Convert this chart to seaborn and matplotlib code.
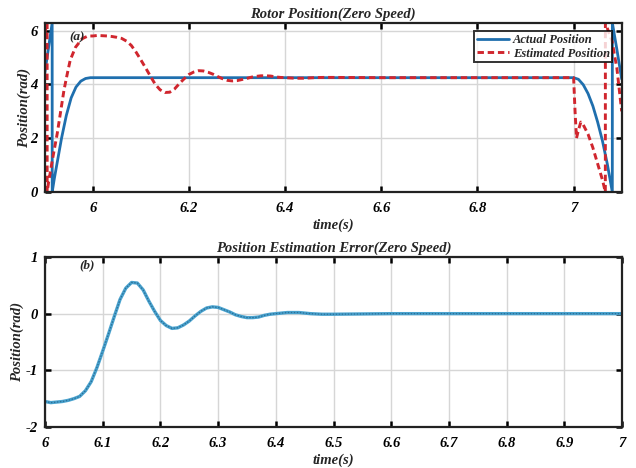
import numpy as np
import pandas as pd
import matplotlib
matplotlib.use("Agg")
import matplotlib.pyplot as plt
import seaborn as sns

# ---------------- data ----------------
act_t = [5.900, 5.9155, 5.9156, 5.920, 5.925, 5.935, 5.945, 5.955, 5.965, 5.975,
         5.985, 5.995, 6.2, 6.4, 6.6, 6.8, 7.000, 7.010, 7.020, 7.030, 7.040,
         7.050, 7.060, 7.070, 7.0805, 7.0806, 7.090, 7.100]
act_y = [4.40, 6.283, 0.00, 0.50, 1.00, 2.00, 2.85, 3.50, 3.90, 4.12,
         4.22, 4.25, 4.25, 4.25, 4.25, 4.25, 4.25, 4.19, 3.99, 3.66, 3.20,
         2.60, 1.90, 1.05, 0.00, 6.283, 5.30, 4.20]

est_t = [5.900, 5.905, 5.9051, 5.908, 5.915, 5.926, 5.940, 5.947, 5.953, 5.964,
         5.978, 5.990, 6.00, 6.01, 6.02, 6.03, 6.04, 6.05, 6.06, 6.07, 6.08,
         6.09, 6.10, 6.11, 6.12, 6.13, 6.14, 6.15, 6.16, 6.17, 6.18, 6.19,
         6.20, 6.21, 6.22, 6.23, 6.24, 6.25, 6.26, 6.27, 6.28, 6.29, 6.30,
         6.31, 6.32, 6.33, 6.34, 6.35, 6.36, 6.37, 6.38, 6.39, 6.40, 6.42,
         6.44, 6.46, 6.48, 6.50, 6.60, 6.70, 6.80, 6.90, 7.000, 7.003, 7.006,
         7.010, 7.015, 7.020, 7.030, 7.040, 7.050, 7.060, 7.066, 7.0661, 7.080,
         7.090, 7.100]
est_y = [5.90, 6.283, 0.00, 0.35, 1.10, 2.17, 3.78, 4.40, 4.90, 5.38,
         5.70, 5.80, 5.80, 5.82, 5.81, 5.80, 5.78, 5.75, 5.71, 5.61, 5.45,
         5.20, 4.91, 4.61, 4.30, 4.00, 3.80, 3.70, 3.71, 3.83, 4.03, 4.21,
         4.37, 4.46, 4.51, 4.50, 4.45, 4.38, 4.29, 4.21, 4.15, 4.13, 4.14,
         4.18, 4.22, 4.27, 4.30, 4.32, 4.32, 4.31, 4.28, 4.26, 4.25, 4.23,
         4.23, 4.25, 4.26, 4.26, 4.25, 4.25, 4.25, 4.25, 4.25, 3.00, 2.00,
         2.30, 2.60, 2.50, 2.15, 1.65, 1.05, 0.45, 0.00, 6.283, 5.60,
         4.60, 3.00]

err_t = [6.00, 6.01, 6.02, 6.03, 6.04, 6.05, 6.06, 6.07, 6.08, 6.09, 6.10,
         6.11, 6.12, 6.13, 6.14, 6.15, 6.16, 6.17, 6.18, 6.19, 6.20, 6.21,
         6.22, 6.23, 6.24, 6.25, 6.26, 6.27, 6.28, 6.29, 6.30, 6.31, 6.32,
         6.33, 6.34, 6.35, 6.36, 6.37, 6.38, 6.39, 6.40, 6.42, 6.44, 6.46,
         6.48, 6.50, 6.60, 6.70, 6.80, 6.90, 7.00]
err_y = [-1.55, -1.57, -1.56, -1.55, -1.53, -1.50, -1.46, -1.36, -1.20, -0.95, -0.66,
         -0.36, -0.05, 0.25, 0.45, 0.55, 0.54, 0.42, 0.22, 0.04, -0.12, -0.21,
         -0.26, -0.25, -0.20, -0.13, -0.04, 0.04, 0.10, 0.12, 0.11, 0.07, 0.03,
         -0.02, -0.05, -0.07, -0.07, -0.06, -0.03, -0.01, 0.00, 0.02, 0.02, 0.00,
         -0.01, -0.01, 0.00, 0.00, 0.00, 0.00, 0.00]

top_xticks = [6, 6.2, 6.4, 6.6, 6.8, 7]
top_xlabels = ["6", "6.2", "6.4", "6.6", "6.8", "7"]
top_yticks = [0, 2, 4, 6]
bot_xticks = [6, 6.1, 6.2, 6.3, 6.4, 6.5, 6.6, 6.7, 6.8, 6.9, 7]
bot_xlabels = ["6", "6.1", "6.2", "6.3", "6.4", "6.5", "6.6", "6.7", "6.8", "6.9", "7"]
bot_yticks = [-2, -1, 0, 1]

# ---------------- style ----------------
sns.set_theme(style="white")
plt.rcParams['font.family'] = ['Liberation Serif', 'DejaVu Serif']
FONT = dict(family=['Liberation Serif', 'DejaVu Serif'], weight='bold', style='italic')

fig = plt.figure(figsize=(6.36, 4.68), dpi=100)
ax1 = fig.add_axes([0.0703, 0.5897, 0.9072, 0.3612])
ax2 = fig.add_axes([0.0708, 0.0876, 0.9072, 0.3633])

BLUE = '#1f6fae'
RED = '#d0262e'
LBLUE = '#4aa3cf'

df_act = pd.DataFrame({'t': act_t, 'y': act_y})
df_est = pd.DataFrame({'t': est_t, 'y': est_y})
df_err = pd.DataFrame({'t': err_t, 'y': err_y})

sns.lineplot(data=df_act, x='t', y='y', ax=ax1, color=BLUE, linewidth=2.0,
             estimator=None, sort=False, label='Actual Position')
sns.lineplot(data=df_est, x='t', y='y', ax=ax1, color=RED, linewidth=2.1,
             estimator=None, sort=False, label='Estimated Position',
             dashes=False)
ax1.lines[-1].set_dashes((2.2, 1.3))

sns.lineplot(data=df_err, x='t', y='y', ax=ax2, color=LBLUE, linewidth=2.4,
             estimator=None, sort=False)
sns.lineplot(data=df_err, x='t', y='y', ax=ax2, color='#2a6f97', linewidth=0.9,
             estimator=None, sort=False)
ax2.lines[-1].set_dashes((1.2, 1.2))

def style_axes(ax, xticks, xlabels, yticks, ylim, xlim, title, tag, tagpos, ylab_x):
    ax.set_xlim(*xlim)
    ax.set_ylim(*ylim)
    ax.set_xticks(xticks)
    ax.set_xticklabels(xlabels, **FONT, fontsize=10.5, color='#222222')
    ax.set_yticks(yticks)
    ax.set_yticklabels([str(v) for v in yticks], **FONT, fontsize=10.5, color='#222222')
    ax.grid(True, color='#d6d6d6', linewidth=1.0)
    ax.set_axisbelow(True)
    ax.tick_params(direction='in', length=4, width=1.8, top=True, right=True,
                   bottom=True, left=True, colors='black')
    ax.tick_params(axis='x', pad=7)
    ax.tick_params(axis='y', pad=5)
    for s in ax.spines.values():
        s.set_visible(True)
        s.set_color('#222222')
        s.set_linewidth(1.6)
    ax.set_xlabel('time(s)', **FONT, fontsize=10.5, labelpad=3)
    ax.set_ylabel('Position(rad)', **FONT, fontsize=10.5)
    ax.yaxis.set_label_coords(ylab_x, 0.5)
    ax.set_title(title, **FONT, fontsize=10.5, pad=4)
    ax.text(tagpos[0], tagpos[1], tag, transform=ax.transAxes, **FONT,
            fontsize=9.5, ha='left', va='center')

style_axes(ax1, top_xticks, top_xlabels, top_yticks, (0, 2 * np.pi), (5.9, 7.1),
           'Rotor Position(Zero Speed)', '(a)', (0.042, 0.915), -0.024)
style_axes(ax2, bot_xticks, bot_xlabels, bot_yticks, (-2, 1), (6, 7),
           'Position Estimation Error(Zero Speed)', '(b)', (0.06, 0.95), -0.036)

leg = ax1.legend(loc='upper right', bbox_to_anchor=(0.984, 0.95),
                 prop=dict(family=['Liberation Serif'], weight='bold', style='italic', size=9),
                 frameon=True, fancybox=False, handlelength=2.6, handletextpad=0.3,
                 borderpad=0.2, labelspacing=0.15, borderaxespad=0)
leg.get_frame().set_edgecolor('black')
leg.get_frame().set_linewidth(1.4)
if ax2.get_legend() is not None:
    ax2.get_legend().remove()

fig.savefig('out.png', dpi=100)
